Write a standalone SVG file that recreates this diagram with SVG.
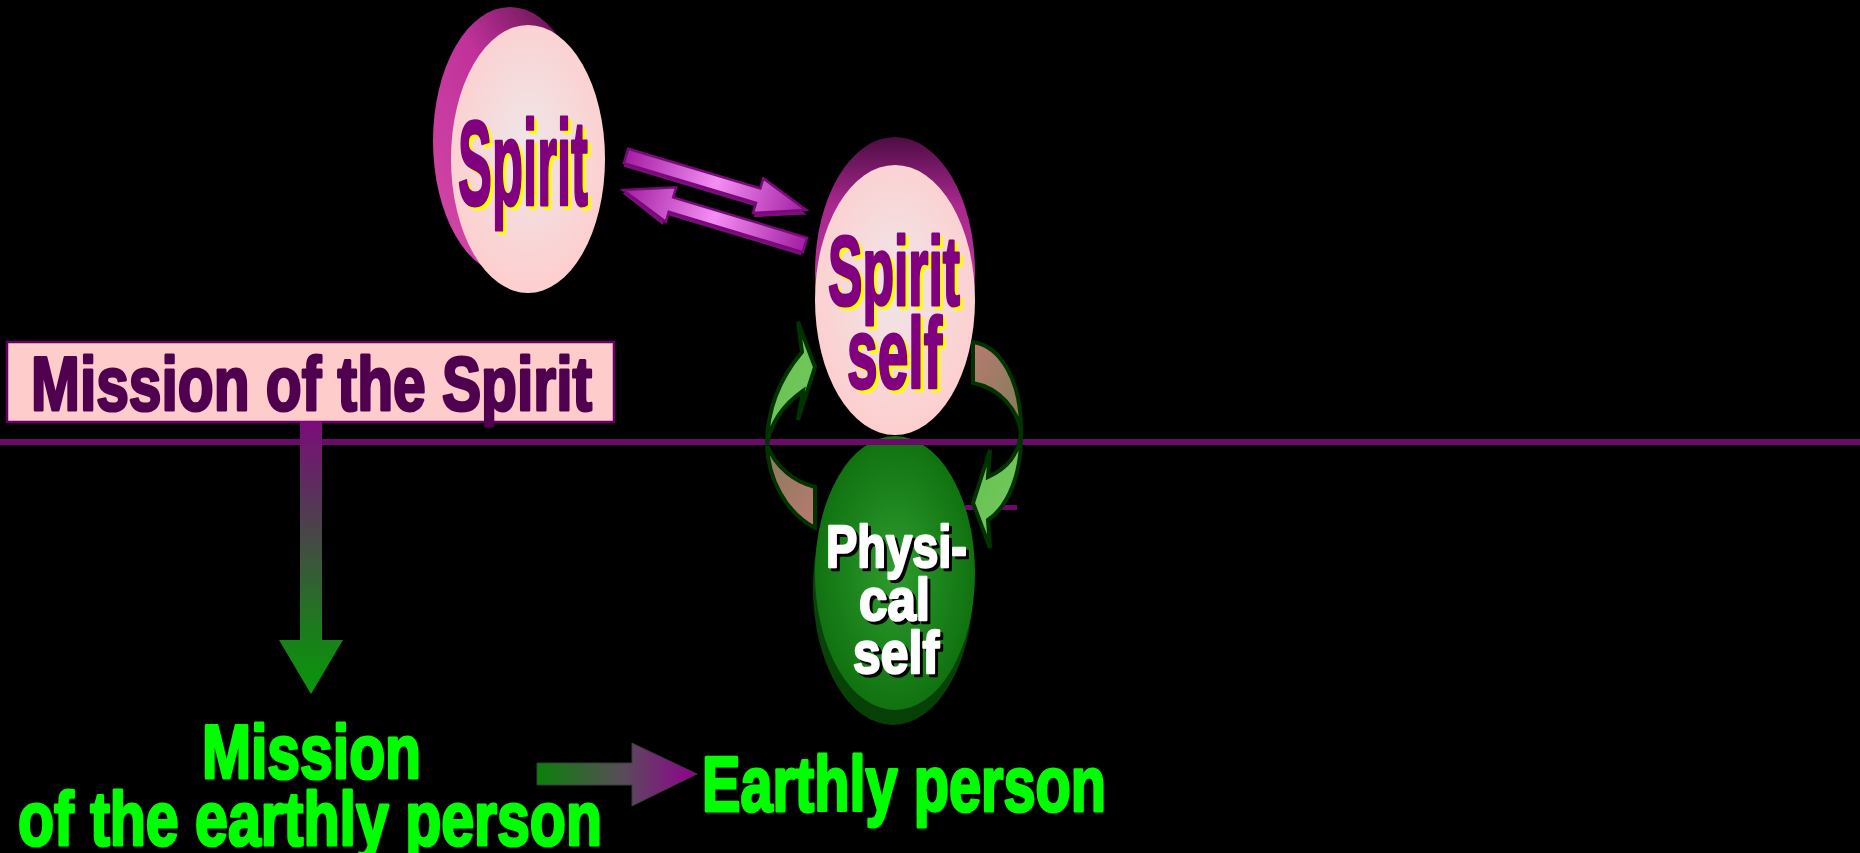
<svg xmlns="http://www.w3.org/2000/svg" width="1860" height="853" viewBox="0 0 1860 853">
<style>
.t{font-family:"Liberation Sans Narrow","Liberation Sans",Arial,sans-serif;font-weight:bold}
.sp{fill:#800080;stroke:#800080;stroke-width:3;stroke-linejoin:round}
.sy{fill:#ffff00;stroke:#ffff00;stroke-width:3;stroke-linejoin:round}
.pw{fill:#ffffff;stroke:#ffffff;stroke-width:2.5;stroke-linejoin:round}
.pk{fill:#000000;stroke:#000000;stroke-width:2.5;stroke-linejoin:round}
.gr{fill:#00ff00;stroke:#00ff00;stroke-width:3;stroke-linejoin:round}
.mb{fill:#4f004f;stroke:#4f004f;stroke-width:3;stroke-linejoin:round}
.curve{stroke:#003300;stroke-width:4;stroke-linejoin:miter}
.dbl{fill:url(#arrMag);stroke:#7a0a7a;stroke-width:2.5}
.dblsh{fill:#7a107a}
</style>
<defs>
<radialGradient id="faceP" cx="0.5" cy="0.45" r="0.6">
<stop offset="0" stop-color="#efe6e8"/>
<stop offset="1" stop-color="#ffcccc"/>
</radialGradient>
<linearGradient id="rim1" x1="0" y1="1" x2="1" y2="0">
<stop offset="0" stop-color="#d54aa8"/>
<stop offset="0.55" stop-color="#c0329a"/>
<stop offset="1" stop-color="#4a0a3c"/>
</linearGradient>
<linearGradient id="rim2" x1="0" y1="0" x2="0" y2="1">
<stop offset="0" stop-color="#4e0c44"/>
<stop offset="0.25" stop-color="#a8288e"/>
<stop offset="1" stop-color="#d04aaa"/>
</linearGradient>
<radialGradient id="faceG" cx="0.5" cy="0.5" r="0.6">
<stop offset="0" stop-color="#2e9c2e"/>
<stop offset="1" stop-color="#0a6a0a"/>
</radialGradient>
<linearGradient id="rimG" x1="0" y1="0" x2="0" y2="1">
<stop offset="0" stop-color="#0a4a0a"/>
<stop offset="1" stop-color="#064006"/>
</linearGradient>
<linearGradient id="arrMag" x1="0" y1="0" x2="1" y2="0">
<stop offset="0" stop-color="#a21ea2"/>
<stop offset="0.5" stop-color="#f48ef4"/>
<stop offset="1" stop-color="#a21ea2"/>
</linearGradient>
<linearGradient id="downG" gradientUnits="userSpaceOnUse" x1="0" y1="421" x2="0" y2="694">
<stop offset="0" stop-color="#7c0c7c"/>
<stop offset="0.4" stop-color="#4a444a"/>
<stop offset="0.75" stop-color="#1e7a1e"/>
<stop offset="1" stop-color="#089808"/>
</linearGradient>
<linearGradient id="rightG" gradientUnits="userSpaceOnUse" x1="537" y1="0" x2="697" y2="0">
<stop offset="0" stop-color="#0a800a"/>
<stop offset="0.55" stop-color="#5a4a5a"/>
<stop offset="1" stop-color="#920092"/>
</linearGradient>
<linearGradient id="greenA" x1="0" y1="0" x2="1" y2="1">
<stop offset="0" stop-color="#62c24c"/>
<stop offset="1" stop-color="#78c862"/>
</linearGradient>
<linearGradient id="brownA" x1="0" y1="0" x2="1" y2="1">
<stop offset="0" stop-color="#8a7a5c"/>
<stop offset="1" stop-color="#b87a70"/>
</linearGradient>
<linearGradient id="brownB" x1="0" y1="0" x2="1" y2="1">
<stop offset="0" stop-color="#b87a70"/>
<stop offset="1" stop-color="#7e7e58"/>
</linearGradient>
</defs>
<rect x="0" y="0" width="1860" height="853" fill="#000000"/>

<g id="lines">
<rect x="965" y="505" width="52" height="5" fill="#6b0a6b"/>
</g>

<g id="spirit">
<ellipse cx="510" cy="141" rx="77" ry="134" fill="url(#rim1)"/>
<ellipse cx="528" cy="159" rx="77" ry="134" fill="url(#faceP)"/>
<text class="t sy" x="461" y="208" font-size="121" textLength="130" lengthAdjust="spacingAndGlyphs">Spirit</text>
<text class="t sp" x="458" y="205" font-size="121" textLength="130" lengthAdjust="spacingAndGlyphs">Spirit</text>
</g>

<g id="spirit-self">
<ellipse cx="895" cy="272" rx="80" ry="135" fill="url(#rim2)"/>
<ellipse cx="895" cy="300" rx="80" ry="135" fill="url(#faceP)"/>
<text class="t sy" x="831" y="308" font-size="98" textLength="132" lengthAdjust="spacingAndGlyphs">Spirit</text>
<text class="t sp" x="828" y="305" font-size="98" textLength="132" lengthAdjust="spacingAndGlyphs">Spirit</text>
<text class="t sy" x="850" y="391" font-size="100" textLength="95" lengthAdjust="spacingAndGlyphs">self</text>
<text class="t sp" x="847" y="388" font-size="100" textLength="95" lengthAdjust="spacingAndGlyphs">self</text>
</g>

<g id="physical-self">
<ellipse cx="893" cy="588" rx="80" ry="137" fill="url(#rimG)"/>
<ellipse cx="895" cy="573" rx="80" ry="137" fill="url(#faceG)"/>
<text class="t pk" x="829" y="570" font-size="60" textLength="141" lengthAdjust="spacingAndGlyphs">Physi-</text>
<text class="t pw" x="826" y="567" font-size="60" textLength="141" lengthAdjust="spacingAndGlyphs">Physi-</text>
<text class="t pk" x="862" y="623" font-size="60" textLength="71" lengthAdjust="spacingAndGlyphs">cal</text>
<text class="t pw" x="859" y="620" font-size="60" textLength="71" lengthAdjust="spacingAndGlyphs">cal</text>
<text class="t pk" x="856" y="676" font-size="60" textLength="86" lengthAdjust="spacingAndGlyphs">self</text>
<text class="t pw" x="853" y="673" font-size="60" textLength="86" lengthAdjust="spacingAndGlyphs">self</text>
</g>

<g id="divider">
<rect x="0" y="439" width="1860" height="6" fill="#6b0a6b"/>
</g>

<g id="mission-spirit">
<rect x="7" y="342" width="607" height="80" fill="#ffcccc" stroke="#660066" stroke-width="2.5"/>
<text class="t mb" x="31" y="410" font-size="76" textLength="561" lengthAdjust="spacingAndGlyphs">Mission of the Spirit</text>
</g>

<g id="mission-earthly">
<text class="t gr" x="202" y="778" font-size="76" textLength="219" lengthAdjust="spacingAndGlyphs">Mission</text>
<text class="t gr" x="18" y="845" font-size="76" textLength="584" lengthAdjust="spacingAndGlyphs">of the earthly person</text>
</g>

<g id="earthly-person">
<text class="t gr" x="702" y="811" font-size="77" textLength="404" lengthAdjust="spacingAndGlyphs">Earthly person</text>
</g>

<g id="connectors">
<path d="M300,421 L322,421 L322,640 L343,640 L311,694 L279,640 L300,640 Z" fill="url(#downG)"/>
<path d="M537,763 L632,763 L632,743 L697,774 L632,806 L632,785 L537,785 Z" fill="url(#rightG)" stroke="#3a3a3a" stroke-width="1"/>
<g transform="translate(626,156) rotate(16.7)">
<path class="dblsh" d="M1,-4 L140,-4 L140,-15 L190,4 L140,22 L140,11 L1,11 Z"/>
<path class="dbl" d="M0,-7.5 L138,-7.5 L138,-18 L188,0 L138,18 L138,7.5 L0,7.5 Z"/>
</g>
<g transform="translate(805,245) rotate(196.8)">
<path class="dblsh" d="M1,-11 L142,-11 L142,-22 L190,-3 L142,15 L142,4 L1,4 Z"/>
<path class="dbl" d="M0,-7.5 L140,-7.5 L140,-18 L190,0 L140,18 L140,7.5 L0,7.5 Z"/>
</g>
<path class="curve" fill="url(#brownA)" d="M767,445 C768,478 785,512 815,528 L815,487 C795,482 776,468 767,445 Z"/>
<path class="curve" fill="url(#greenA)" d="M767,445 C767,410 780,378 802,352 L798,322 L815,367 L798,420 L803,391 C786,403 771,420 767,445 Z"/>
<path class="curve" fill="url(#brownB)" d="M973,342 C1000,346 1022,380 1021,433 C1018,410 1000,388 973,383 Z"/>
<path class="curve" fill="url(#greenA)" d="M1021,433 C1022,470 1010,505 988,520 L990,548 L973,503 L990,450 L988,477 C1008,468 1018,455 1021,433 Z"/>
</g>
</svg>
